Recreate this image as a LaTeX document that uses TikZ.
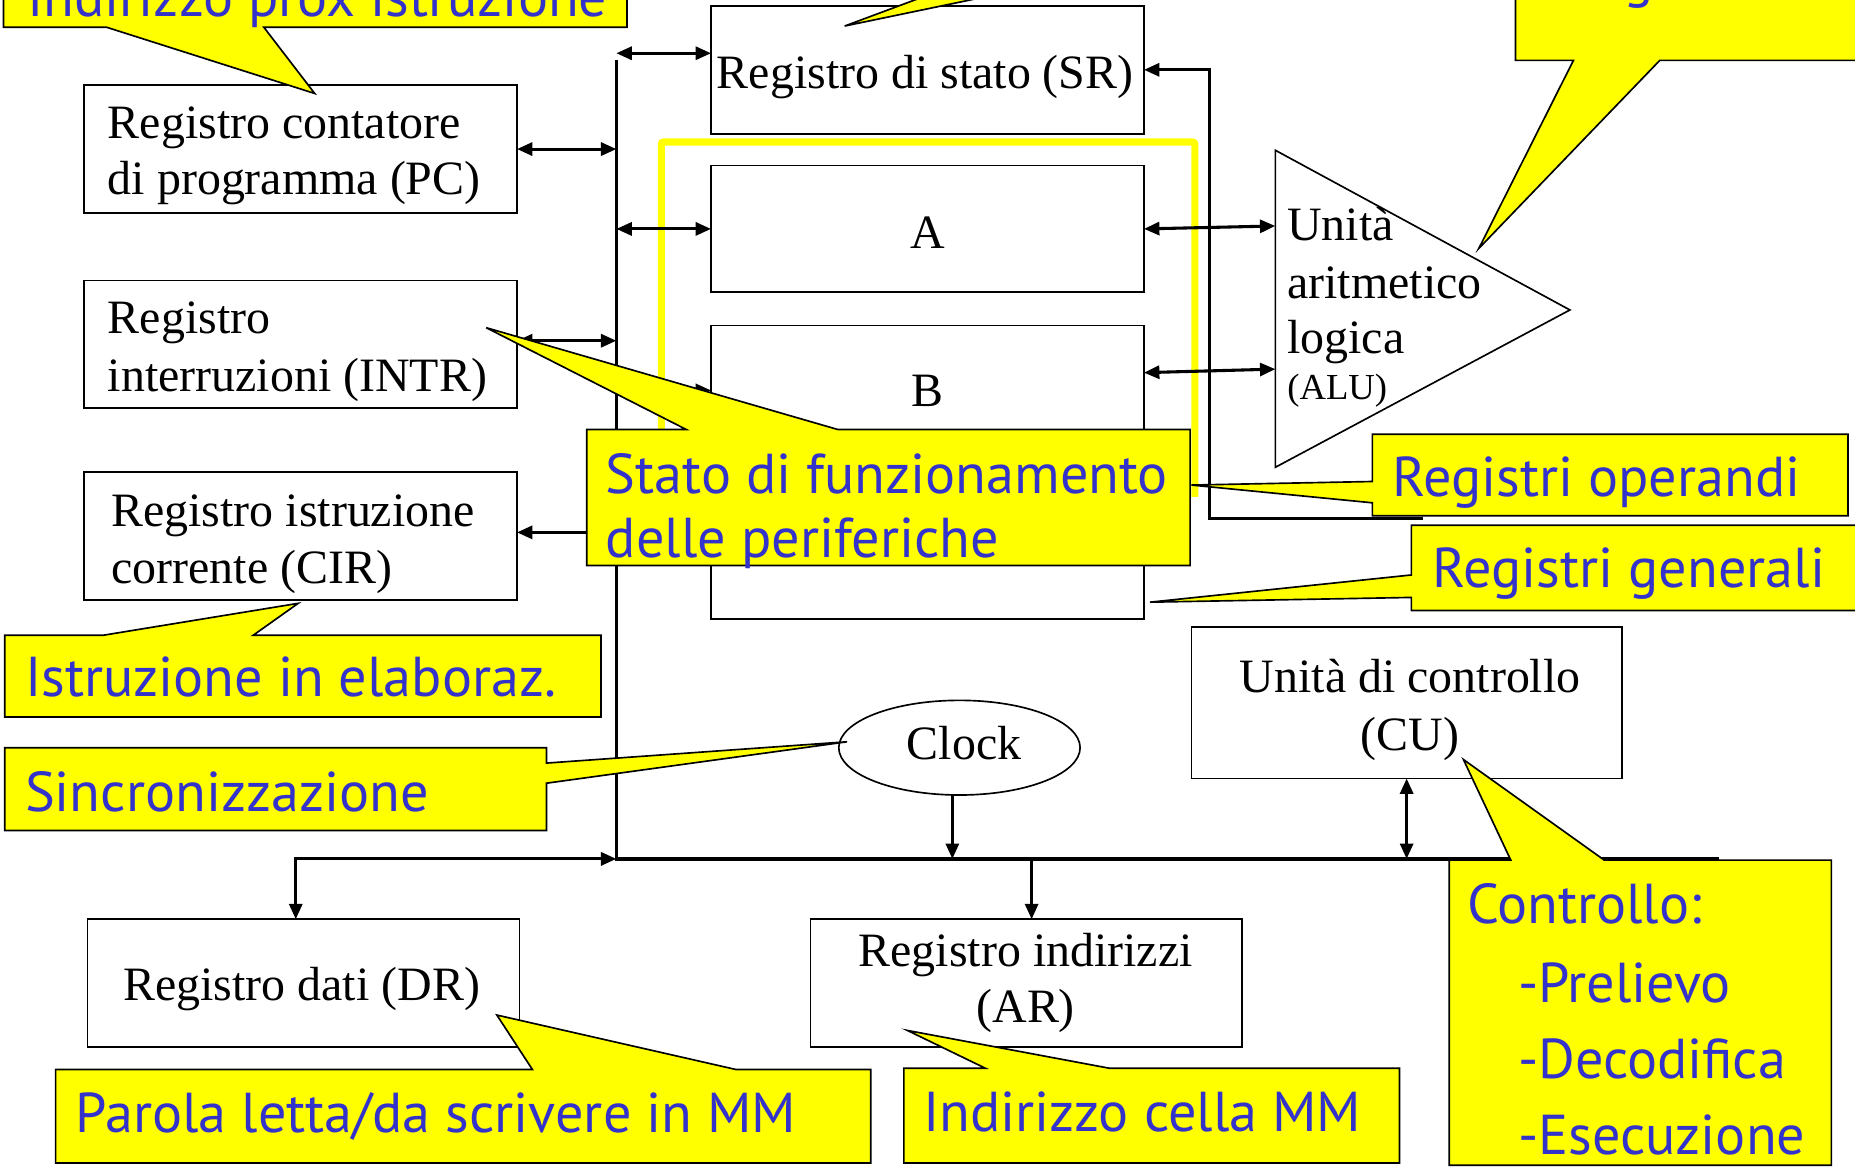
\documentclass[tikz,border=0pt]{standalone}
\usepackage{fontspec}
\setmainfont{Liberation Serif}
\newfontfamily\callfont{PT Sans}
\usetikzlibrary{arrows.meta,calc,shapes.geometric}
\definecolor{cblue}{RGB}{51,51,204}
\definecolor{cyel}{RGB}{255,255,0}
\begin{document}
\begin{tikzpicture}[x=1pt,y=-1pt,
  >={Triangle[length=13pt,width=11pt]},
  reg/.style={draw, line width=1.4pt, inner sep=0pt, outer sep=0pt, fill=white},
  rtxt/.style={font=\fontsize{40.5}{48}\selectfont, anchor=base west, inner sep=0pt},
  stxt/.style={font=\fontsize{31}{36}\selectfont, anchor=base west, inner sep=0pt},
  ctxt/.style={font=\fontsize{40.5}{48}\selectfont, anchor=base, inner sep=0pt},
  conn/.style={line width=2.6pt},
  callout/.style={fill=cyel, draw=black, line width=1.4pt, line join=miter},
  ytxt/.style={font=\callfont\fontsize{47.5}{54}\selectfont, text=cblue, anchor=base west, inner sep=0pt}
]
\useasboundingbox (0,0) rectangle (1568,986);
\clip (0,0) rectangle (1568,986);

% yellow frame of the operand registers
\draw[cyel, line width=6pt, rounded corners=2pt] (559,420) -- (559,120) -- (1010,120) -- (1010,420);

% registers
\node[reg, minimum width=366pt, minimum height=108pt] (sr) at (784,59) {};
\node[reg, minimum width=366pt, minimum height=107pt] (a) at (784,193.5) {};
\node[reg, minimum width=366pt, minimum height=248pt] (b) at (784,399) {};
\node[reg, minimum width=366pt, minimum height=108pt] (pc) at (254,126) {};
\node[reg, minimum width=366pt, minimum height=108pt] (intr) at (254,291) {};
\node[reg, minimum width=366pt, minimum height=108pt] (cir) at (254,453) {};
\node[reg, minimum width=364pt, minimum height=128pt] (cu) at (1189,594) {};
\node[reg, minimum width=365pt, minimum height=108pt] (dr) at (256.5,831) {};
\node[reg, minimum width=365pt, minimum height=108pt] (ar) at (867.5,831) {};
\node[reg, ellipse, minimum width=204pt, minimum height=80pt] (clk) at (811,632) {};

% ALU
\draw[line width=1.4pt, fill=white] (1078,127) -- (1327,262) -- (1078,395) -- cycle;
\coordinate (aluA) at (1078,191);
\coordinate (aluB) at (1078,312);

% texts
\node[rtxt] (pc1) at (91,117) {Registro contatore};
\node[rtxt] (pc2) at (91,164) {di programma (PC)};
\node[rtxt] (intr1) at (91,282) {Registro};
\node[rtxt] (intr2) at (91,331) {interruzioni (INTR)};
\node[rtxt] (cir1) at (94,445) {Registro istruzione};
\node[rtxt] (cir2) at (94,493) {corrente (CIR)};
\node[ctxt] (srt) at (782,75) {Registro di stato (SR)};
\node[ctxt] (at) at (784,210) {A};
\node[ctxt] (bt) at (784,344) {B};
\node[rtxt] (alu1) at (1088,203) {Unità};
\node[rtxt] (alu2) at (1088,252) {aritmetico};
\node[rtxt] (alu3) at (1088,299) {logica};
\node[stxt] (alu4) at (1088,338) {(ALU)};
\node[ctxt] (clkt) at (815,642) {Clock};
\node[ctxt] (cut1) at (1192,585) {Unità di controllo};
\node[ctxt] (cut2) at (1192,634) {(CU)};
\node[ctxt] (drt) at (255,846) {Registro dati (DR)};
\node[ctxt] (art1) at (867,817) {Registro indirizzi};
\node[ctxt] (art2) at (867,864) {(AR)};

% bus
\coordinate (bus) at (521,400);
\coordinate (bustop) at (521,51);
\coordinate (busc) at (521,726);
\coordinate (busend) at (1453,726);
\draw[line width=3pt] (bustop) -- (busc) -- (busend);

% connectors
\coordinate (srin) at (521,45);
\draw[conn,<->] (srin) -- (srin -| sr.west);
\draw[conn,<->] (pc.east) -- (pc.east -| bus);
\draw[conn,<->] (bus |- a.west) -- (a.west);
\coordinate (introut) at ($(intr.north east)+(0,51)$);
\draw[conn,<->] (introut) -- (introut -| bus);
\coordinate (bin) at ($(b.north west)+(0,55)$);
\draw[conn,<->] (bin -| bus) -- (bin);
\coordinate (cirin) at ($(cir.north east)+(0,51)$);
\draw[conn,->] (cirin -| bus) -- (cirin);
\coordinate (srfb) at (1203,438);
\draw[conn,->] (srfb) -| ($(sr.east)+(55,0)$) -- (sr.east);
\draw[conn,<->] (a.east) -- (aluA);
\coordinate (bout) at ($(b.north east)+(0,40)$);
\draw[conn,<->] (bout) -- (aluB);
\draw[conn,->] ([xshift=-6pt]clk.south) -- ([xshift=-6pt]clk.south |- busc);
\draw[conn,<->] (cu.south) -- (cu.south |- busc);
\draw[conn,->] ([xshift=4.5pt]ar.north |- busc) -- ([xshift=4.5pt]ar.north);
\draw[conn,<->] ([xshift=-6.5pt]dr.north) |- (busc);

% callouts
\draw[callout] (3,-20) -- (530,-20) -- (530,23) -- (223,23) -- (266,79) -- (90,23) -- (3,23) -- cycle;
\node[ytxt] (c1) at (23,14) {Indirizzo prox istruzione};

\draw[callout] (640,-80) -- (1000,-80) -- (1000,-10) -- (868,-10) -- (714,22) -- (800,-10) -- (640,-10) -- cycle;

\draw[callout] (1281,-80) -- (1600,-80) -- (1600,51) -- (1403,51) -- (1250,210) -- (1330,51) -- (1281,51) -- cycle;
\node[ytxt, anchor=base] (c3) at (1385,-3) {g};

\draw[callout] (496,363) -- (580,363) -- (411,277) -- (708,363) -- (1006,363) -- (1006,478) -- (496,478) -- cycle;
\node[ytxt] (c4a) at (512,417) {Stato di funzionamento};
\node[ytxt] (c4b) at (512,471) {delle periferiche};

\draw[callout] (1160,367) -- (1562,367) -- (1562,436) -- (1160,436) -- (1160,425) -- (1007,410) -- (1160,407) -- cycle;
\node[ytxt] (c5) at (1177,420) {Registri operandi};

\draw[callout] (1193,444) -- (1600,444) -- (1600,516) -- (1193,516) -- (1193,505) -- (972,509) -- (1193,486) -- cycle;
\node[ytxt] (c6) at (1211,497) {Registri generali};

\draw[callout] (4,537) -- (87,537) -- (252,510) -- (214,537) -- (508,537) -- (508,606) -- (4,606) -- cycle;
\node[ytxt] (c7) at (21,589) {Istruzione in elaboraz.};

\draw[callout] (4,632) -- (462,632) -- (462,645) -- (716,627) -- (462,662) -- (462,702) -- (4,702) -- cycle;
\node[ytxt] (c8) at (21,686) {Sincronizzazione};

\draw[callout] (47,904) -- (450,904) -- (420,858) -- (622,904) -- (736,904) -- (736,983) -- (47,983) -- cycle;
\node[ytxt] (c9) at (64,957) {Parola letta/da scrivere in MM};

\draw[callout] (764,903) -- (833,903) -- (767,871) -- (938,903) -- (1183,903) -- (1183,983) -- (764,983) -- cycle;
\node[ytxt] (c10) at (780,956) {Indirizzo cella MM};

\draw[callout] (1225,727) -- (1277,727) -- (1237,642) -- (1356,727) -- (1548,727) -- (1548,985) -- (1225,985) -- cycle;
\node[ytxt] (c11a) at (1240,781) {Controllo:};
\node[ytxt] (c11b) at (1283,847) {-Prelievo};
\node[ytxt] (c11c) at (1283,912) {-Decodifica};
\node[ytxt] (c11d) at (1283,976) {-Esecuzione};
\end{tikzpicture}
\end{document}
